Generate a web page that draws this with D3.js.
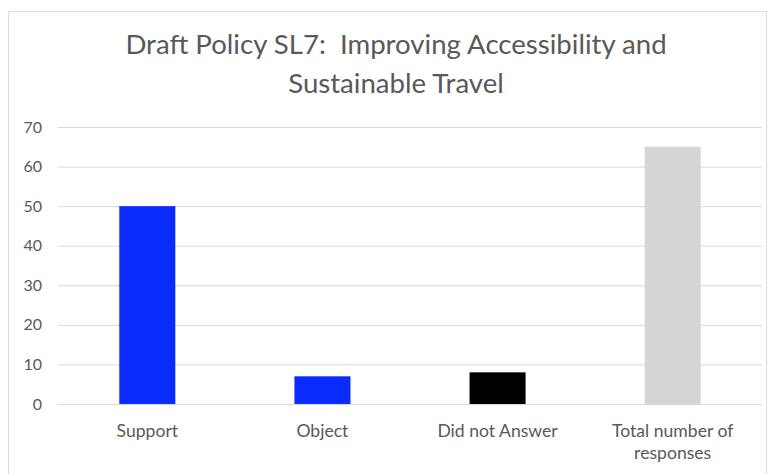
<!DOCTYPE html>
<html>
<head>
<meta charset="utf-8">
<script src="https://cdn.jsdelivr.net/npm/d3@7"></script>
<style>
  html, body { margin: 0; padding: 0; background: #fff; }
  svg { display: block; }
  text { font-family: Lato, "Open Sans", sans-serif; fill: #595959; }
</style>
</head>
<body>
<svg id="chart" width="775" height="474"></svg>
<script>
const categories = ["Support", "Object", "Did not Answer", "Total number of responses"];
const values = [50, 7, 8, 65];
const barColors = ["#0a2cff", "#0a2cff", "#000000", "#d6d6d6"];
const yTicks = [0, 10, 20, 30, 40, 50, 60, 70];
const titleLines = ["Draft Policy SL7:  Improving Accessibility and", "Sustainable Travel"];
const categoryLines = [["Support"], ["Object"], ["Did not Answer"], ["Total number of", "responses"]];

const svg = d3.select("#chart");
const W = 775, H = 474;
const margin = { left: 58, right: 13, top: 127, bottom: 70 };

// chart border
svg.append("rect")
  .attr("x", 8.5).attr("y", 11.5)
  .attr("width", 758).attr("height", 480)
  .attr("fill", "none").attr("stroke", "#d9d9d9").attr("stroke-width", 1);

const x = d3.scaleBand()
  .domain(categories)
  .range([margin.left, W - margin.right])
  .paddingInner(0.68)
  .paddingOuter(0.35);

const y = d3.scaleLinear()
  .domain([0, 70])
  .range([404, 127]);

// gridlines
const yAxis = d3.axisLeft(y)
  .tickValues(yTicks)
  .tickSize(-(W - margin.right - margin.left))
  .tickPadding(16)
  .tickFormat(d3.format("d"));

const gAxis = svg.append("g")
  .attr("transform", `translate(${margin.left},0)`)
  .call(yAxis);
gAxis.select(".domain").remove();
gAxis.selectAll(".tick line").attr("stroke", "#d9d9d9").attr("stroke-width", 1);
gAxis.selectAll(".tick text")
  .attr("font-size", 16)
  .attr("fill", "#595959")
  .style("font-family", "Lato, 'Open Sans', sans-serif");

// bars
svg.append("g").selectAll("rect")
  .data(categories)
  .join("rect")
  .attr("x", d => x(d))
  .attr("width", x.bandwidth())
  .attr("y", (d, i) => y(values[i]))
  .attr("height", (d, i) => y(0) - y(values[i]))
  .attr("fill", (d, i) => barColors[i]);

// category labels
const catG = svg.append("g");
categories.forEach((c, i) => {
  const t = catG.append("text")
    .attr("x", x(c) + x.bandwidth() / 2)
    .attr("y", 437)
    .attr("text-anchor", "middle")
    .attr("font-size", 17.6);
  categoryLines[i].forEach((line, j) => {
    t.append("tspan")
      .attr("x", x(c) + x.bandwidth() / 2)
      .attr("dy", j === 0 ? 0 : 22)
      .text(line);
  });
});

// title
const title = svg.append("text")
  .attr("x", 396)
  .attr("y", 54)
  .attr("text-anchor", "middle")
  .attr("font-size", 27.6);
titleLines.forEach((line, j) => {
  title.append("tspan")
    .attr("x", 396)
    .attr("dy", j === 0 ? 0 : 39)
    .style("white-space", "pre")
    .text(line);
});
</script>
</body>
</html>
